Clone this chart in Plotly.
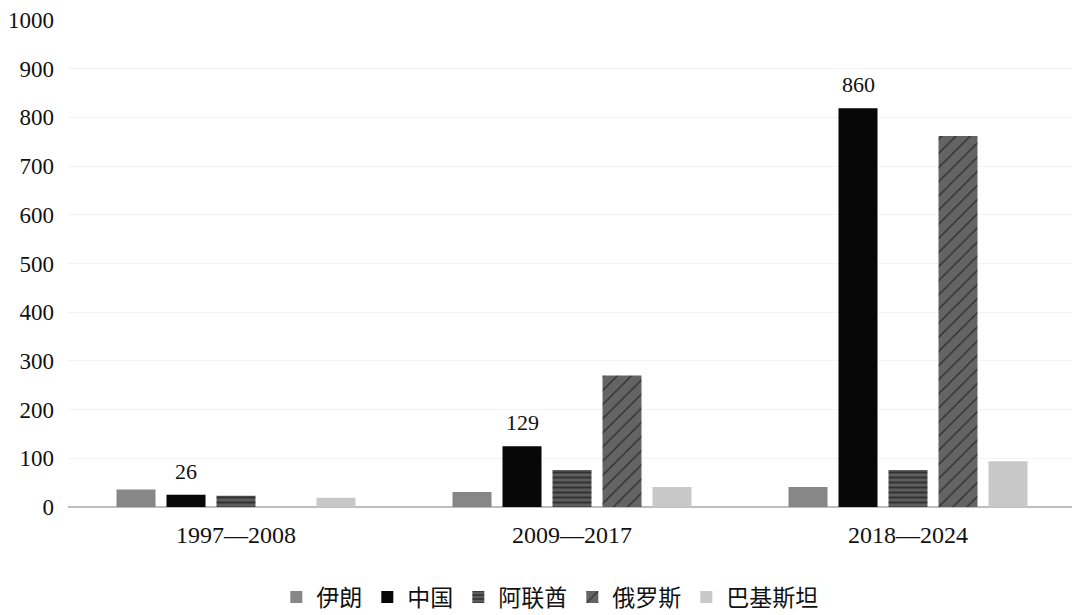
import plotly.graph_objects as go

periods = ["1997—2008", "2009—2017", "2018—2024"]
iran = [36, 31, 41]
china = [25, 125, 819]
china_labels = ["26", "129", "860"]
uae = [23, 76, 76]
russia = [0, 270, 762]
pakistan = [19, 41, 94]

FONT = "Liberation Serif, Times New Roman, Noto Sans CJK SC, serif"

fig = go.Figure()
fig.add_trace(go.Bar(name="伊朗", x=periods, y=iran,
                     marker=dict(color="#878787", line=dict(width=0))))
fig.add_trace(go.Bar(name="中国", x=periods, y=china,
                     marker=dict(color="#070707", line=dict(width=0))))
fig.add_trace(go.Bar(name="阿联酋", x=periods, y=uae,
                     marker=dict(color="#5e5e5e", line=dict(width=0),
                                 pattern=dict(shape="-", fgcolor="#050505", bgcolor="#5e5e5e",
                                              size=5, solidity=0.4, fillmode="overlay"))))
fig.add_trace(go.Bar(name="俄罗斯", x=periods, y=russia,
                     marker=dict(color="#646464", line=dict(width=0),
                                 pattern=dict(shape="/", fgcolor="#000000", bgcolor="#646464",
                                              size=10, solidity=0.15, fillmode="overlay"))))
fig.add_trace(go.Bar(name="巴基斯坦", x=periods, y=pakistan,
                     marker=dict(color="#c8c8c8", line=dict(width=0))))

# value labels above the China bars (offset = group slot position)
for p, v, t in zip(periods, china, china_labels):
    fig.add_annotation(x=p, y=v, text=t, xref="x", yref="y", showarrow=False,
                       yanchor="bottom", yshift=9, xshift=-50,
                       font=dict(size=22, family=FONT, color="#111111"))

fig.update_layout(
    width=1072, height=607,
    margin=dict(l=60, r=4, t=12, b=108, autoexpand=False),
    paper_bgcolor="white", plot_bgcolor="white",
    barmode="group", bargap=0.256, bargroupgap=0.22,
    font=dict(family=FONT, size=22, color="#111111"),
    showlegend=True,
    legend=dict(orientation="h", x=0.478, xanchor="center", y=-0.185, yanchor="middle",
                font=dict(size=23, family=FONT), traceorder="normal",
                itemwidth=30),
    xaxis=dict(showline=False, ticks="", automargin=False,
               tickfont=dict(size=24, family=FONT), ticklabelstandoff=11),
    yaxis=dict(range=[0, 1000], dtick=100, showgrid=True, gridcolor="#f3f3f3",
               automargin=False,
               zeroline=True, zerolinecolor="#bdbdbd", zerolinewidth=2,
               tickfont=dict(size=23, family=FONT), ticklabelstandoff=13),
)

fig.write_html("out.html")
